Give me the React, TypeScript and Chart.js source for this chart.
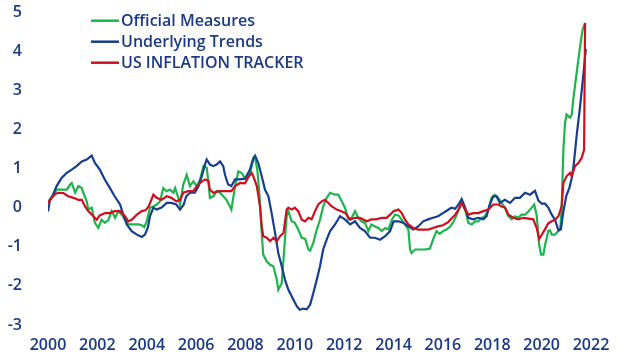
import React, { useEffect, useRef } from "react";
import { Chart, registerables } from "chart.js";

Chart.register(...registerables);

const seriesNames = ["Official Measures", "Underlying Trends", "US INFLATION TRACKER"];
const xTickLabels = ["2000", "2002", "2004", "2006", "2008", "2010", "2012", "2014", "2016", "2018", "2020", "2022"];
const yTickLabels = ["-3", "-2", "-1", "0", "1", "2", "3", "4", "5"];

const officialX = [2000.0, 2000.2, 2000.35, 2000.55, 2000.76, 2000.9, 2000.96, 2001.1, 2001.23, 2001.37, 2001.43, 2001.57, 2001.63, 2001.77, 2001.9, 2002.04, 2002.17, 2002.3, 2002.45, 2002.58, 2002.72, 2002.85, 2002.99, 2003.12, 2003.25, 2003.45, 2003.66, 2003.8, 2003.9, 2004.0, 2004.13, 2004.27, 2004.4, 2004.54, 2004.67, 2004.81, 2004.94, 2005.08, 2005.15, 2005.28, 2005.35, 2005.48, 2005.62, 2005.75, 2005.89, 2006.03, 2006.16, 2006.3, 2006.43, 2006.5, 2006.56, 2006.7, 2006.83, 2006.97, 2007.1, 2007.23, 2007.37, 2007.43, 2007.58, 2007.71, 2007.84, 2007.98, 2008.1, 2008.2, 2008.32, 2008.39, 2008.48, 2008.56, 2008.66, 2008.72, 2008.86, 2009.0, 2009.13, 2009.27, 2009.33, 2009.47, 2009.54, 2009.67, 2009.74, 2009.87, 2010.0, 2010.14, 2010.28, 2010.42, 2010.55, 2010.62, 2010.75, 2010.89, 2011.02, 2011.15, 2011.29, 2011.43, 2011.63, 2011.76, 2011.9, 2012.03, 2012.17, 2012.3, 2012.44, 2012.57, 2012.7, 2012.84, 2012.98, 2013.1, 2013.25, 2013.38, 2013.52, 2013.66, 2013.8, 2013.93, 2014.06, 2014.2, 2014.33, 2014.46, 2014.6, 2014.67, 2014.73, 2014.87, 2015.07, 2015.27, 2015.47, 2015.6, 2015.74, 2015.87, 2016.0, 2016.14, 2016.3, 2016.44, 2016.56, 2016.7, 2016.76, 2016.9, 2017.03, 2017.17, 2017.3, 2017.43, 2017.57, 2017.7, 2017.84, 2017.97, 2018.1, 2018.24, 2018.38, 2018.51, 2018.65, 2018.78, 2018.92, 2019.05, 2019.19, 2019.33, 2019.46, 2019.6, 2019.7, 2019.8, 2019.9, 2019.98, 2020.07, 2020.14, 2020.27, 2020.34, 2020.41, 2020.54, 2020.68, 2020.75, 2020.81, 2020.88, 2020.95, 2021.01, 2021.15, 2021.22, 2021.28, 2021.42, 2021.56, 2021.66, 2021.76];
const officialY = [0.15, 0.29, 0.46, 0.46, 0.46, 0.59, 0.63, 0.38, 0.55, 0.5, 0.38, 0.16, -0.05, 0.0, -0.39, -0.52, -0.31, -0.39, -0.31, -0.09, -0.26, -0.09, -0.18, -0.31, -0.43, -0.43, -0.43, -0.45, -0.5, -0.35, 0.0, 0.03, 0.08, 0.16, 0.5, 0.42, 0.46, 0.38, 0.5, 0.25, 0.08, 0.59, 0.84, 0.55, 0.67, 0.55, 0.72, 1.06, 1.02, 0.63, 0.25, 0.29, 0.42, 0.38, 0.29, 0.2, 0.03, -0.05, 0.55, 0.93, 0.89, 0.74, 0.8, 0.9, 1.23, 1.27, 0.97, 0.38, -0.65, -1.2, -1.37, -1.46, -1.5, -1.84, -2.1, -1.93, -1.33, -0.22, -0.09, -0.35, -0.39, -0.56, -0.77, -0.8, -1.07, -1.1, -0.9, -0.56, -0.31, 0.03, 0.25, 0.38, 0.33, 0.33, 0.16, 0.0, -0.3, -0.26, -0.09, -0.26, -0.35, -0.39, -0.6, -0.43, -0.48, -0.52, -0.6, -0.52, -0.56, -0.31, -0.18, -0.2, -0.31, -0.43, -0.56, -1.07, -1.16, -1.07, -1.07, -1.07, -1.05, -0.82, -0.6, -0.67, -0.6, -0.56, -0.48, -0.35, -0.18, 0.03, 0.17, -0.05, -0.39, -0.43, -0.35, -0.35, -0.26, -0.22, -0.05, 0.25, 0.33, 0.25, 0.12, 0.0, -0.22, -0.3, -0.22, -0.26, -0.18, -0.18, -0.1, 0.0, 0.08, -0.2, -0.95, -1.2, -1.2, -0.95, -0.6, -0.58, -0.69, -0.69, -0.6, -0.56, -0.05, 1.48, 2.17, 2.38, 2.3, 2.38, 2.76, 3.45, 4.13, 4.55, 4.72];

const underlyingX = [2000.0, 2000.08, 2000.2, 2000.35, 2000.55, 2000.76, 2000.96, 2001.16, 2001.37, 2001.57, 2001.77, 2001.9, 2002.1, 2002.3, 2002.5, 2002.7, 2002.92, 2003.05, 2003.19, 2003.39, 2003.6, 2003.8, 2003.93, 2004.05, 2004.13, 2004.27, 2004.4, 2004.6, 2004.81, 2005.0, 2005.2, 2005.35, 2005.5, 2005.6, 2005.75, 2005.95, 2006.1, 2006.23, 2006.36, 2006.43, 2006.56, 2006.7, 2006.83, 2006.97, 2007.1, 2007.17, 2007.3, 2007.43, 2007.58, 2007.77, 2007.98, 2008.18, 2008.32, 2008.39, 2008.52, 2008.66, 2008.79, 2008.93, 2009.06, 2009.2, 2009.33, 2009.47, 2009.6, 2009.74, 2009.94, 2010.08, 2010.2, 2010.35, 2010.48, 2010.62, 2010.75, 2010.89, 2011.02, 2011.15, 2011.29, 2011.43, 2011.63, 2011.83, 2012.03, 2012.24, 2012.44, 2012.64, 2012.84, 2013.05, 2013.25, 2013.45, 2013.66, 2013.86, 2014.0, 2014.2, 2014.4, 2014.6, 2014.8, 2015.0, 2015.2, 2015.4, 2015.6, 2015.8, 2016.0, 2016.2, 2016.35, 2016.5, 2016.63, 2016.76, 2016.9, 2017.03, 2017.23, 2017.43, 2017.64, 2017.77, 2017.9, 2018.04, 2018.17, 2018.31, 2018.51, 2018.72, 2018.92, 2019.12, 2019.33, 2019.53, 2019.73, 2019.87, 2020.0, 2020.14, 2020.27, 2020.41, 2020.54, 2020.68, 2020.78, 2020.88, 2021.0, 2021.12, 2021.22, 2021.3, 2021.42, 2021.56, 2021.69, 2021.79];
const underlyingY = [-0.1, 0.2, 0.33, 0.55, 0.76, 0.89, 0.97, 1.06, 1.18, 1.23, 1.33, 1.14, 0.97, 0.72, 0.51, 0.29, 0.08, -0.18, -0.43, -0.6, -0.69, -0.75, -0.69, -0.5, -0.22, 0.0, -0.05, 0.0, 0.12, 0.12, 0.08, -0.05, 0.08, 0.29, 0.38, 0.38, 0.55, 0.8, 1.1, 1.23, 1.1, 1.06, 1.1, 1.18, 1.06, 0.84, 0.59, 0.55, 0.72, 0.72, 0.74, 0.97, 1.27, 1.33, 1.14, 0.8, 0.46, 0.29, -0.14, -0.65, -1.16, -1.5, -1.84, -2.1, -2.35, -2.52, -2.61, -2.58, -2.6, -2.48, -2.18, -1.84, -1.5, -1.07, -0.82, -0.6, -0.43, -0.22, -0.3, -0.43, -0.35, -0.52, -0.6, -0.77, -0.77, -0.82, -0.73, -0.6, -0.35, -0.35, -0.39, -0.48, -0.56, -0.48, -0.35, -0.3, -0.26, -0.22, -0.14, -0.06, 0.0, -0.03, 0.08, 0.22, 0.0, -0.26, -0.3, -0.26, -0.3, -0.22, 0.08, 0.29, 0.29, 0.12, 0.2, 0.12, 0.25, 0.25, 0.38, 0.33, 0.43, 0.18, 0.1, 0.1, 0.0, -0.18, -0.31, -0.58, -0.55, -0.1, 0.3, 0.5, 0.75, 1.1, 1.85, 2.6, 3.4, 4.05];

const trackerX = [2000.0, 2000.15, 2000.3, 2000.42, 2000.62, 2000.82, 2001.03, 2001.23, 2001.37, 2001.5, 2001.63, 2001.84, 2001.97, 2002.1, 2002.31, 2002.5, 2002.7, 2002.92, 2003.12, 2003.25, 2003.39, 2003.6, 2003.8, 2003.95, 2004.08, 2004.27, 2004.4, 2004.6, 2004.81, 2005.0, 2005.2, 2005.35, 2005.48, 2005.68, 2005.88, 2006.03, 2006.16, 2006.36, 2006.5, 2006.56, 2006.7, 2006.9, 2007.1, 2007.3, 2007.43, 2007.58, 2007.78, 2007.98, 2008.1, 2008.25, 2008.32, 2008.46, 2008.59, 2008.66, 2008.72, 2008.86, 2009.0, 2009.13, 2009.27, 2009.4, 2009.54, 2009.67, 2009.74, 2009.87, 2010.0, 2010.14, 2010.28, 2010.42, 2010.55, 2010.68, 2010.82, 2010.95, 2011.09, 2011.22, 2011.36, 2011.5, 2011.7, 2011.88, 2012.05, 2012.24, 2012.44, 2012.64, 2012.91, 2013.1, 2013.3, 2013.52, 2013.72, 2013.86, 2014.0, 2014.2, 2014.33, 2014.46, 2014.6, 2014.8, 2015.0, 2015.2, 2015.4, 2015.6, 2015.8, 2016.0, 2016.2, 2016.3, 2016.5, 2016.63, 2016.76, 2016.9, 2017.03, 2017.23, 2017.43, 2017.64, 2017.84, 2018.04, 2018.24, 2018.38, 2018.52, 2018.65, 2018.85, 2019.05, 2019.26, 2019.46, 2019.66, 2019.8, 2019.9, 2020.0, 2020.14, 2020.27, 2020.41, 2020.54, 2020.68, 2020.81, 2020.88, 2021.01, 2021.15, 2021.22, 2021.35, 2021.49, 2021.62, 2021.72, 2021.76];
const trackerY = [0.12, 0.25, 0.35, 0.38, 0.37, 0.29, 0.25, 0.2, 0.2, 0.03, -0.09, -0.22, -0.31, -0.2, -0.14, -0.14, -0.09, -0.09, -0.22, -0.35, -0.31, -0.18, -0.09, -0.07, 0.03, 0.33, 0.25, 0.2, 0.29, 0.25, 0.16, 0.2, 0.38, 0.42, 0.42, 0.55, 0.63, 0.72, 0.68, 0.46, 0.38, 0.42, 0.42, 0.42, 0.42, 0.55, 0.63, 0.62, 0.76, 0.89, 0.8, 0.55, 0.03, -0.48, -0.73, -0.77, -0.86, -0.77, -0.86, -0.73, -0.65, -0.05, 0.0, -0.05, 0.0, -0.09, -0.31, -0.35, -0.26, -0.3, -0.09, 0.08, 0.16, 0.2, 0.12, 0.03, -0.05, -0.09, -0.14, -0.31, -0.26, -0.26, -0.35, -0.3, -0.3, -0.26, -0.26, -0.18, -0.09, -0.05, -0.14, -0.3, -0.43, -0.52, -0.56, -0.56, -0.56, -0.52, -0.48, -0.45, -0.38, -0.31, -0.18, -0.05, 0.12, -0.05, -0.18, -0.14, -0.14, -0.09, -0.05, 0.08, 0.08, 0.03, 0.0, -0.18, -0.26, -0.3, -0.26, -0.28, -0.3, -0.52, -0.8, -0.7, -0.55, -0.4, -0.35, -0.31, -0.22, 0.03, 0.63, 0.8, 0.89, 0.8, 1.06, 1.14, 1.27, 1.48, 4.72];

const NAVY = "#1b3a85";
const GREEN = "#1db44d";
const BLUE = "#153e8f";
const RED = "#cc1020";
const FONT = "'Open Sans', 'DejaVu Sans', sans-serif";

const toPoints = (xs: number[], ys: number[]) => xs.map((x, i) => ({ x, y: ys[i] }));

const legendPlugin = {
  id: "insideLegend",
  afterDraw(chart: any) {
    const { ctx, chartArea } = chart;
    const items = [
      { label: seriesNames[0], color: GREEN },
      { label: seriesNames[1], color: BLUE },
      { label: seriesNames[2], color: RED },
    ];
    ctx.save();
    items.forEach((it, i) => {
      const y = chartArea.top + 8.7 + i * 21;
      const x0 = chartArea.left + 43;
      ctx.strokeStyle = it.color;
      ctx.lineWidth = 2.5;
      ctx.beginPath();
      ctx.moveTo(x0, y);
      ctx.lineTo(x0 + 28, y);
      ctx.stroke();
      ctx.fillStyle = NAVY;
      ctx.font = `600 16px ${FONT}`;
      ctx.textBaseline = "middle";
      ctx.textAlign = "left";
      ctx.fillText(it.label, x0 + 30, y + 0.5);
    });
    ctx.restore();
  },
};

export default function App() {
  const ref = useRef<HTMLCanvasElement | null>(null);
  useEffect(() => {
    if (!ref.current) return;
    const chart = new Chart(ref.current, {
      type: "line",
      data: {
        datasets: [
          {
            label: seriesNames[2],
            data: toPoints(trackerX, trackerY),
            borderColor: RED,
            borderWidth: 2.2,
            pointRadius: 0,
            order: 0,
          },
          {
            label: seriesNames[1],
            data: toPoints(underlyingX, underlyingY),
            borderColor: BLUE,
            borderWidth: 2.2,
            pointRadius: 0,
            order: 1,
          },
          {
            label: seriesNames[0],
            data: toPoints(officialX, officialY),
            borderColor: GREEN,
            borderWidth: 2.2,
            pointRadius: 0,
            order: 2,
          },
        ],
      },
      options: {
        animation: false,
        responsive: false,
        maintainAspectRatio: false,
        layout: { padding: { left: 0, right: 29, top: 12, bottom: 0 } },
        plugins: { legend: { display: false }, tooltip: { enabled: false } },
        scales: {
          x: {
            type: "linear",
            min: 2000,
            max: 2022,
            grid: { display: false },
            border: { display: false },
            afterFit: (s: any) => {
              s.height = 33;
              s.paddingLeft = 0;
              s.paddingRight = 0;
            },
            afterBuildTicks: (s: any) => {
              s.ticks = xTickLabels.map((t) => ({ value: Number(t) }));
            },
            ticks: {
              padding: 3,
              color: NAVY,
              font: { family: FONT, size: 16, weight: "600" },
              maxRotation: 0,
              autoSkip: false,
              callback: (v: any) => String(v),
            },
          },
          y: {
            min: -3,
            max: 5,
            grid: { display: false },
            border: { display: false },
            afterFit: (s: any) => {
              s.width = 48;
              s.paddingTop = 0;
              s.paddingBottom = 0;
            },
            afterBuildTicks: (s: any) => {
              s.ticks = yTickLabels.map((t) => ({ value: Number(t) }));
            },
            ticks: {
              padding: 18,
              color: NAVY,
              font: { family: FONT, size: 16, weight: "600" },
              callback: (v: any) => String(v),
            },
          },
        },
      },
      plugins: [legendPlugin],
    });
    return () => chart.destroy();
  }, []);
  return (
    <div style={{ position: "fixed", left: 0, top: 0, width: 620, height: 358, background: "#fff" }}>
      <canvas ref={ref} width={620} height={358} style={{ width: 620, height: 358 }} />
    </div>
  );
}
